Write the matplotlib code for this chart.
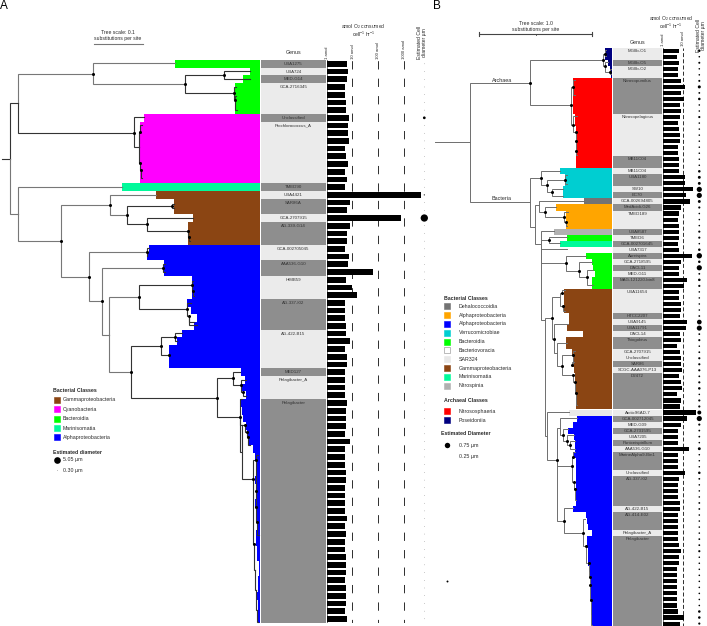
import matplotlib
matplotlib.use('Agg')
import matplotlib.pyplot as plt

plt.rcParams['font.family'] = ['Liberation Sans', 'DejaVu Sans']
plt.rcParams['mathtext.default'] = 'regular'

W, H = 707, 626
DARK = '#8e8e8e'
LIGHT = '#ebebeb'
TXT = '#2a2a2a'

# class colours
GAMMA = '#8b4513'
CYANO = '#ff00ff'
BACTERO = '#00ff00'
MARINI = '#00fa9a'
ALPHA = '#0000ff'
DEHALO = '#737373'
ORANGE = '#ffa500'
VERRU = '#00ced1'
BDELLO = '#ffffff'
SAR324 = '#e8e8e8'
NITROSPINIA = '#b0b0b0'
NITROSO = '#ff0000'
POSEID = '#000080'

# ---- Panel A data ----
genus_a = ['UBA1275', 'UBA724', 'MED-G14', 'GCA-2716345', 'Unclassified', 'Prochlorococcus_A', 'TMED90',
           'UBA4421', 'SAR86A', 'GCA-2707915', 'AG-339-G14', 'GCA-002705045', 'AAA536-G10', 'HIMB59',
           'AG-337-I02', 'AG-422-B15', 'MED127', 'Pelagibacter_A', 'Pelagibacter']
genus_a_rows = [1, 1, 1, 4, 1, 8, 1, 1, 2, 1, 3, 2, 2, 3, 4, 5, 1, 3, 29]

amol_a = [5.0, 5.5, 5.0, 4.2, 4.2, 4.9, 4.6, 6.4, 5.7, 5.5, 6.4, 4.3, 4.5, 5.7, 4.2, 5.0, 4.3, 4730,
          7.0, 5.2, 764, 7.0, 5.3, 5.2, 4.2, 6.4, 5.8, 60, 4.5, 8.9, 14.8, 4.2, 4.2, 4.3, 4.5, 4.6,
          7.0, 4.2, 5.2, 5.2, 4.2, 4.1, 4.2, 4.2, 5.0, 4.5, 4.6, 4.5, 4.2, 6.8, 4.2, 4.2, 4.2, 4.5,
          4.9, 4.1, 4.2, 4.2, 4.1, 5.0, 4.1, 4.7, 4.2, 4.3, 4.9, 4.5, 4.6, 4.3, 4.9, 4.7, 4.5, 4.3, 5.3]

diam_a = [0.35] * 73
diam_a[7] = 1.9
diam_a[17] = 0.8
diam_a[20] = 5.05

band_a_colors = [BACTERO] * 7 + [CYANO] * 9 + [MARINI] + [GAMMA] * 7 + [ALPHA] * 49
band_a_left = [175, 250, 243, 235, 235, 235, 235,
               144, 140, 140, 140, 140, 140, 140, 140, 140,
               122,
               155.7, 174, 174, 193, 188, 188, 188,
               149, 147, 164, 164, 192, 192, 192, 187, 191, 197, 194, 182, 177, 169, 169, 169,
               241, 245, 242, 246, 240, 242, 243, 246, 247, 248, 253, 255, 256, 256, 255, 256, 256, 255,
               256, 257, 257, 256, 256, 257, 257, 259, 259, 258, 258, 257, 258, 258, 258]

# name, parent, x, y, dot
tree_a = [
    ('stub', None, 1.5, 158.5, 0), ('root', 'stub', 9.5, 158.5, 0),
    ('n1', 'root', 17.5, 103, 0), ('n2', 'n1', 93, 74, 1), ('', 'n2', 175, 63.3, 0),
    ('n3', 'n2', 185, 84.3, 1), ('n4', 'n3', 224, 75, 1), ('', 'n4', 250, 71, 0), ('', 'n4', 250, 78.7, 0),
    ('n5', 'n3', 234, 93, 1), ('', 'n5', 236, 87, 0), ('n5a', 'n5', 235, 100, 1), ('', 'n5a', 236, 96, 0),
    ('', 'n5a', 237, 110, 0),
    ('n6', 'n1', 133.7, 132.5, 1), ('', 'n6', 144, 117.3, 0), ('n7', 'n6', 139, 147.3, 0),
    ('n8', 'n7', 140.3, 132, 1), ('', 'n8', 142, 125, 0), ('n9', 'n7', 140.3, 163, 1),
    ('n10', 'n9', 140.7, 169.7, 1), ('', 'n10', 142, 178, 0),
    ('n11', 'root', 17.5, 214, 0), ('', 'n11', 122, 187, 0), ('n12', 'n11', 60.7, 241, 1),
    ('n13', 'n12', 109.7, 205, 1), ('', 'n13', 155.7, 195, 0), ('n14', 'n13', 127, 215.3, 1),
    ('n15', 'n14', 171.7, 206, 1), ('', 'n15', 174, 204, 0), ('', 'n15', 174, 208, 0),
    ('n16', 'n14', 146.7, 224.3, 1), ('', 'n16', 193, 217.7, 0), ('n17', 'n16', 188, 231.3, 1),
    ('n18', 'n17', 189, 237, 1), ('', 'n18', 190, 241, 0),
    ('n19', 'n12', 89, 277, 1), ('n20', 'n19', 146.7, 252.3, 1), ('', 'n20', 149, 248, 0), ('', 'n20', 147, 256, 0),
    ('n21', 'n19', 101.7, 301, 1), ('n22', 'n21', 162.7, 268, 1), ('', 'n22', 165, 264, 0), ('', 'n22', 165, 272, 0),
    ('n23', 'n21', 108.7, 334.7, 0), ('n24', 'n23', 139, 297.3, 1), ('n25', 'n24', 192, 285, 1),
    ('n25a', 'n25', 192.7, 291, 1), ('', 'n25', 193, 281, 0), ('', 'n25a', 194, 296, 0),
    ('n26', 'n24', 187, 309.3, 1), ('n27', 'n26', 189, 316, 1), ('', 'n26', 191, 303, 0),
    ('', 'n27', 197, 325, 0), ('', 'n27', 194, 322, 0),
    ('n28', 'n23', 131.3, 372, 1), ('n29', 'n28', 161, 346, 1), ('n30', 'n29', 175, 337, 1),
    ('', 'n30', 182, 333, 0), ('', 'n30', 177, 341, 0), ('n31', 'n29', 169, 354.7, 1),
    ('n32', 'n28', 217.3, 397.7, 1), ('n33', 'n32', 232.7, 378.3, 1), ('', 'n33', 240, 372, 0),
    ('n34', 'n33', 240.7, 385.3, 1), ('n35', 'n34', 243.3, 391.7, 1), ('', 'n34', 246, 380, 0),
    ('', 'n35', 246, 396, 0), ('n36', 'n32', 240, 417.3, 1), ('', 'n36', 242, 399, 0), ('', 'n36', 241, 452, 0),
    ('a', 'n36', 242.3, 425, 0), ('a1', 'a', 245, 425, 1), ('a2', 'a1', 247.3, 431.7, 1),
    ('a3', 'a2', 248, 437.3, 1), ('', 'a3', 250, 445, 0),
    ('n40', 'a', 253, 479.3, 1), ('n41', 'n40', 256, 460, 1), ('', 'n41', 258, 455, 0),
    ('n42', 'n41', 256, 491, 1), ('n43', 'n42', 256, 507, 1), ('n44', 'n43', 257, 522, 1), ('', 'n44', 259, 535, 0),
    ('n45', 'n40', 254, 544, 1), ('n46', 'n45', 255, 570, 0), ('n47', 'n46', 256, 590, 0),
    ('n48', 'n47', 257, 610, 0), ('', 'n48', 258, 622, 0),
]
gray_a = ['n2', 'n11', 'n12', 'n19', 'n21', 'n23', 'n13']

# ---- Panel B data ----
genus_b = ['MGIIb-O1', 'MGIIb-O5', 'MGIIb-O2', 'Nitrosopumilus', 'Nitrosopelagicus', 'MB11C04', 'MB11C04',
           'UBA1180', 'SW10', 'EC70', 'GCA-002694805', 'MedAcidi-G26', 'TMED189', 'UBA8587', 'TMED6',
           'GCA-002701645', 'UBA7317', 'Aureispira', 'GCA-2718595', 'DACL11', 'MED-G11', 'MAG-121220-bin8',
           'UBA11654', 'HTCC2207', 'UBA9145', 'UBA11791', 'DACL14', 'Thiogobius', 'GCA-2707915', 'Unclassified',
           'SAR86', 'SCGC-AAA076-P13', 'D2472', 'Arctic96AD-7', 'GCA-002712045', 'MED-G09', 'GCA-2731595',
           'UBA7205', 'Puniceispirillum', 'AAA536-G10', 'MarineAlpha9-Bin1', 'Unclassified', 'AG-337-I02',
           'AG-422-B15', 'AG-414-E02', 'Pelagibacter_A', 'Pelagibacter']
genus_b_rows = [2, 1, 2, 6, 7, 2, 1, 2, 1, 1, 1, 1, 3, 1, 1, 1, 1, 1, 1, 1, 1, 2, 4, 1, 1, 1, 1, 2, 1, 1,
                1, 1, 6, 1, 1, 1, 1, 1, 1, 1, 3, 1, 5, 1, 3, 1, 15]
genus_b_dark = [0, 1, 0, 1, 0, 1, 0, 1, 0, 1, 0, 1, 0, 1, 0, 1, 0, 1, 0, 1, 0, 1, 0, 1, 0, 1, 0, 1, 0, 0,
                1, 0, 1, 0, 1, 0, 1, 0, 1, 0, 1, 0, 1, 0, 1, 0, 1]

amol_b = [5.4, 4.1, 4.8, 4.5, 4.6, 6.8, 11.7, 6.8, 9.6, 5.6, 6.6, 5.8, 4.3, 5.2, 6.1, 5.8, 4.5, 4.5, 4.8, 4.8,
          5.0, 10.8, 10.8, 28, 12.1, 20.7, 6.8, 5.0, 4.6, 4.8, 4.8, 5.4, 4.3, 4.8, 26, 7.1, 5.2, 4.8, 14.7, 10,
          5.4, 5.0, 6.6, 6.3, 6.1, 14.7, 12.1, 5.6, 6.6, 4.1, 6.1, 6.8, 6.8, 7.6, 4.8, 7.1, 7.9, 4.1, 6.3, 6.1,
          41, 14.7, 6.6, 4.3, 4.3, 4.3, 19.2, 4.3, 4.3, 4.3, 11.7, 4.8, 4.3, 4.3, 4.3, 5.6, 5.8, 4.3, 4.3, 4.6,
          4.6, 4.5, 5.4, 6.3, 5.2, 5.4, 4.1, 4.1, 4.1, 4.1, 4.1, 4.1, 4.1, 4.3, 9.3, 6.1]

diam_b = [.35, .22, .28, .22, .22, .28, .42, .25, .35, .22, .22, .3, .22, .22, .22, .22, .22, .22, .22, .22,
          .35, .4, .4, .72, .72, .4, .3, .22, .22, .22, .3, .3, .22, .35, .75, .35, .72, .25, .35, .3,
          .22, .22, .22, .22, .25, .65, .7, .25, .3, .22, .25, .3, .3, .3, .25, .3, .35, .22, .3, .3,
          .55, .72, .3, .25, .25, .22, .4, .22, .22, .22, .35, .25, .22, .22, .22, .25, .25, .22, .22, .22,
          .22, .25, .25, .3, .22, .22, .22, .22, .22, .22, .22, .22, .22, .35, .35, .3]

band_b_colors = ([POSEID] * 5 + [NITROSO] * 15 + [VERRU] * 5 + [DEHALO] + [ORANGE] * 4 + [NITROSPINIA] +
                 [BACTERO] + [MARINI] + [BDELLO] + [BACTERO] * 6 + [GAMMA] * 20 + [SAR324] + [ALPHA] * 35)
band_b_left = [605, 605, 608, 610, 610.7,
               573, 573, 573, 573, 573, 573, 575, 575, 576, 576, 576, 576, 576, 576, 576,
               560, 565, 565, 563, 563,
               584,
               556, 566, 566, 566,
               554, 566.7, 560, 566.7,
               586, 591.7, 593, 595, 592, 592,
               564, 564, 564, 564, 569, 569, 566.7, 582.7, 566, 566, 571.7, 573, 573, 574, 575, 575, 576, 576, 576, 576,
               569,
               576.7, 573, 568, 574, 574.5, 575, 573, 575.7, 575.7, 575.7, 575.7, 575.7, 575.7, 575.7, 575.7, 573,
               585.7, 586.7, 587.7, 592, 587, 587, 587.5, 588, 588, 589, 589.5, 590, 590, 590.5, 590.5, 591, 591, 591.5, 591.7]

tree_b = [
    ('stub', None, 435.3, 142.3, 0), ('root', 'stub', 470, 142.3, 0),
    ('arch', 'root', 530, 82.7, 1), ('m1', 'arch', 603.3, 60.3, 1), ('m2', 'm1', 604.7, 53.7, 1),
    ('', 'm2', 606, 50, 0), ('', 'm2', 606, 56, 0), ('m3', 'm1', 605, 66, 1), ('m4', 'm3', 609.7, 71.6, 1),
    ('', 'm3', 608, 62, 0), ('', 'm4', 611, 69, 0), ('', 'm4', 611, 74, 0),
    ('th', 'arch', 570.7, 105.3, 1), ('th1', 'th', 572.7, 86.7, 1), ('', 'th1', 575, 80, 0), ('', 'th1', 575, 95, 0),
    ('th2', 'th', 573.3, 124.7, 1), ('', 'th2', 577, 116, 0), ('th3', 'th2', 575.7, 132, 1),
    ('th4', 'th3', 576, 141, 1), ('th5', 'th4', 576, 151, 1), ('', 'th5', 577, 155, 0),
    ('bac', 'root', 530, 202.3, 0), ('b1', 'bac', 541, 178, 1), ('', 'b1', 560, 170.7, 0),
    ('b2', 'b1', 546.7, 185.3, 1), ('b3', 'b2', 565.3, 180, 1), ('', 'b3', 567, 175, 0), ('', 'b3', 567, 184, 0),
    ('b4', 'b2', 552.3, 192, 1), ('', 'b4', 563, 189, 0), ('', 'b4', 563, 196, 0),
    ('b5', 'bac', 534.7, 226.7, 0), ('b6', 'b5', 539.3, 205, 0), ('', 'b6', 584, 201, 0),
    ('b7', 'b6', 545, 212, 1), ('', 'b7', 556, 206.7, 0), ('b8', 'b7', 564, 217, 1),
    ('b8a', 'b8', 565.5, 222, 1), ('', 'b8', 568, 212, 0), ('', 'b8a', 567, 226, 0),
    ('b9', 'b5', 541, 244, 0), ('', 'b9', 554, 231, 0), ('b10', 'b9', 549.3, 240, 1), ('', 'b10', 566.7, 236.7, 0),
    ('', 'b10', 560, 243, 0), ('', 'b9', 566.7, 249, 0),
    ('g1', 'b9', 566, 262.7, 1), ('', 'g1', 586, 256, 0), ('g2', 'g1', 579.3, 271, 1), ('', 'g2', 592, 262, 0),
    ('g3', 'g2', 586.7, 277.3, 1), ('', 'g3', 593, 270, 0), ('', 'g3', 593, 284.5, 0),
    ('b11', 'b9', 545, 320, 0), ('c1', 'b11', 551.7, 317.7, 1), ('c1a', 'c1', 560, 296.7, 0),
    ('c1b', 'c1a', 562, 293, 1), ('c1c', 'c1a', 562.5, 306, 1), ('', 'c1b', 565, 290, 0), ('', 'c1c', 565, 311, 0),
    ('c4', 'c1', 554.3, 339.3, 1), ('', 'c4', 568, 324, 0), ('c5', 'c4', 557.3, 352.7, 0), ('', 'c5', 566.7, 343, 0),
    ('c6', 'c5', 562.3, 365.7, 1), ('c7', 'c6', 572.7, 355, 1), ('', 'c7', 575, 351, 0), ('c8', 'c7', 571.7, 365, 1),
    ('', 'c8', 574, 362, 0), ('c9', 'c6', 572.7, 375, 1), ('c10', 'c9', 575.3, 381.7, 1), ('c11', 'c10', 576, 392.7, 1),
    ('', 'c11', 577, 405, 0),
    ('c3', 'b11', 547.3, 436, 0), ('', 'c3', 569, 411.5, 0), ('c2', 'c3', 556.7, 460, 1),
    ('d1', 'c2', 560, 427.7, 0), ('', 'd1', 576.7, 418, 0), ('d2', 'd1', 562.7, 435, 1), ('', 'd2', 568, 429, 0),
    ('d3', 'd2', 567, 440.7, 1), ('', 'd3', 574, 435, 0), ('d4', 'd3', 570, 445, 1), ('', 'd4', 575, 441, 0),
    ('', 'd4', 575, 449, 0),
    ('e0', 'c2', 571.7, 465.7, 1), ('e1', 'e0', 573.3, 456.7, 1), ('', 'e1', 575, 452, 0),
    ('e2', 'e0', 574.3, 481.7, 1), ('e3', 'e2', 575, 489, 1), ('', 'e3', 576, 500, 0),
    ('e', 'c2', 564.3, 520.7, 1), ('', 'e', 573.3, 507.7, 0), ('f2', 'e', 583.3, 532.7, 1), ('', 'f2', 585, 519, 0),
    ('f4', 'f2', 586, 546.3, 1), ('f5', 'f4', 588.7, 562.7, 1), ('f6', 'f5', 590.3, 577, 1), ('f7', 'f6', 590.3, 585, 1),
    ('f8', 'f7', 591, 600, 1), ('', 'f8', 592, 625, 0),
]

legend_a_names = ['Gammaproteobacteria', 'Cyanobacteria', 'Bacteroidia', 'Marinisomatia', 'Alphaproteobacteria']
legend_a_colors = [GAMMA, CYANO, BACTERO, MARINI, ALPHA]
legend_b_names = ['Dehalococcoidia', 'Alphaproteobacteria', 'Alphaproteobacteria', 'Verrucomicrobiae', 'Bacteroidia',
                  'Bacteriovoracia', 'SAR324', 'Gammaproteobacteria', 'Marinisomatia', 'Nitrospinia']
legend_b_colors = [DEHALO, ORANGE, ALPHA, VERRU, BACTERO, BDELLO, SAR324, GAMMA, MARINI, NITROSPINIA]
archaea_names = ['Nitrososphaeria', 'Poseidoniia']
archaea_colors = [NITROSO, POSEID]

fig = plt.figure(figsize=(W / 100, H / 100), dpi=100)


def add_axes(x0, x1, ytop, ybot):
    # axes placed by its pixel box
    a = fig.add_axes([x0 / W, 1 - ybot / H, (x1 - x0) / W, (ybot - ytop) / H])
    a.axis('off')
    a.patch.set_alpha(0)
    return a


def draw_panel(top, row_h, names, spans, darks, left_edges, colors, amol, diam, x_genus, x_one, decade, x_max,
               x_dot, px_per_um, bar_h, dash, dash_style):
    n = len(amol)
    rows = list(range(n))
    bottom = top + n * row_h
    # colour bands and genus cells share rows, x in pixels
    band = add_axes(0, W, top, bottom)
    band.set_xlim(0, W)
    band.set_ylim(n - 0.5, -0.5)
    right = x_genus[0] - 1
    band.barh(rows, [right - l for l in left_edges], left=left_edges, height=1, color=colors, linewidth=0)
    start = 0
    for name, span, dark in zip(names, spans, darks):
        band.barh(range(start, start + span), x_genus[1] - x_genus[0], left=x_genus[0], height=1,
                  color=DARK if dark else LIGHT, linewidth=0)
        band.text(sum(x_genus) / 2, start, name, ha='center', va='center', fontsize=3.2, color='#333333')
        start += span
    band.scatter([x_dot] * n, rows, s=[(d * px_per_um * 0.72) ** 2 for d in diam], color='black', linewidths=0,
                 zorder=4)

    # oxygen bars on a log axis
    bars = add_axes(x_one, x_max, top, bottom)
    bars.set_xscale('log')
    bars.set_xlim(1, 10 ** ((x_max - x_one) / decade))
    bars.set_ylim(n - 0.5, -0.5)
    bars.axvline(1, color='#555555', lw=0.6)
    for tick in dash:
        bars.axvline(tick, color='#333333', lw=0.72, linestyle=dash_style)
    bars.barh(rows, amol, left=1, height=bar_h, color='black', linewidth=0, zorder=3)
    return band


draw_panel(60, 7.708, genus_a, genus_a_rows, [1, 0, 1, 0, 1, 0, 1, 0, 1, 0, 1, 0, 1, 0, 1, 0, 1, 0, 1],
           band_a_left, band_a_colors, amol_a, diam_a, (261, 325.7), 326.7, 25.67, 430, 424.3, 1.445, 0.74,
           [10, 100, 1000], (4.7, (8.3, 9.16)))
draw_panel(47.7, 6.03, genus_b, genus_b_rows, genus_b_dark, band_b_left, band_b_colors, amol_b, diam_b,
           (612.7, 662.3), 663.3, 20, 707, 699.3, 7.2, 0.68, [10], (0, (4, 2.2)))

# everything else is in figure pixels
ax = add_axes(0, W, 0, H)
ax.set_xlim(0, W)
ax.set_ylim(H, 0)
ax.set_zorder(5)


def draw_tree(tree, color, gray=(), lw=0.8):
    pos = {}
    k = 0
    for name, parent, x, y, dot in tree:
        key = name if name else f'_{k}'
        k += 1
        pos[key] = (x, y)
        if parent is not None:
            px, py = pos[parent]
            c = '#777777' if name in gray or parent in gray else color
            ax.plot([px, px, x], [py, y, y], color=c, lw=lw, solid_joinstyle='miter', zorder=2)
        if dot:
            ax.plot(x, y, 'o', color='black', ms=2.2, mew=0, zorder=3)


draw_tree(tree_a, '#333333', gray_a)
draw_tree(tree_b, '#6e6e6e', lw=0.7)


def label(x, y, s, size=3.8, **kw):
    kw.setdefault('va', 'center')
    kw.setdefault('color', TXT)
    ax.text(x, y, s, fontsize=size, **kw)


def legend(x_sq, x_txt, y_title, title, ys, names, colors):
    label(x_sq - 0.5, y_title, title, fontweight='bold')
    for y, name, c in zip(ys, names, colors):
        ax.add_patch(plt.Rectangle((x_sq, y - 3), 6, 6, facecolor=c,
                                   edgecolor='#888888' if c == BDELLO else c, lw=0.4))
        label(x_txt, y, name)


# panel letters
label(4, 6, 'A', size=8.5, ha='center', color='black')
label(437, 6, 'B', size=8.5, ha='center', color='black')

# scale bars
label(118, 32.2, 'Tree scale: 0.1', ha='center', size=3.7)
label(118, 38.8, 'substitutions per site', ha='center', size=3.7)
ax.plot([94, 142.7], [44, 44], color='#777777', lw=0.8)
label(535.7, 23.7, 'Tree scale: 1.0', ha='center', size=3.7)
label(535.7, 30, 'substitutions per site', ha='center', size=3.7)
ax.plot([479, 592.3], [33.7, 33.7], color='#444444', lw=0.8)
ax.plot([479, 479], [31.5, 36], color='#444444', lw=0.8)
ax.plot([592.3, 592.3], [31.5, 36], color='#444444', lw=0.8)
ax.plot([535.7, 535.7], [33.7, 35], color='#444444', lw=0.6)

# headers panel A
label(293.3, 53, 'Genus', size=3.8, ha='center')
label(363.3, 26.4, 'amol O$_2$ consumed', ha='center', size=3.6)
label(363.3, 34, 'cell$^{-1}$ hr$^{-1}$', ha='center', size=3.6)
for x, s in zip([327, 352.7, 378, 403.7], ['1 amol', '10 amol', '100 amol', '1000 amol']):
    label(x, 59, s, size=3.1, rotation=90, ha='center', va='bottom')
label(422.3, 59, 'Estimated Cell\ndiameter µm', size=3.7, rotation=90, ha='center', va='bottom', linespacing=1.0,
      multialignment='center')

# headers panel B
label(637.3, 42, 'Genus', size=3.8, ha='center')
label(671, 18.8, 'amol O$_2$ consumed', ha='center', size=3.6)
label(671, 26.4, 'cell$^{-1}$ hr$^{-1}$', ha='center', size=3.6)
label(663.3, 46, '1 amol', size=3.1, rotation=90, ha='center', va='bottom')
label(683.3, 46, '10 amol', size=3.1, rotation=90, ha='center', va='bottom')
label(701, 52, 'Estimated Cell\ndiameter µm', size=3.7, rotation=90, ha='center', va='bottom', linespacing=1.0,
      multialignment='center')
label(501.7, 80, 'Archaea', ha='center', size=3.9)
label(501.7, 199, 'Bacteria', ha='center', size=3.9)

# legends
legend(53.7, 63, 390.7, 'Bacterial Classes', [400, 409.3, 418.7, 428, 437.3], legend_a_names, legend_a_colors)
label(53, 452, 'Estimated diameter', fontweight='bold')
ax.plot(57, 460.3, 'o', color='black', ms=4.8, mew=0)
label(63, 460, '5.05 µm')
ax.plot(57, 470.3, 'o', color='#999999', ms=0.5, mew=0)
label(63, 470.3, '0.30 µm')

legend(444, 459, 298.3, 'Bacterial Classes', [306, 315, 323.7, 332.7, 341.7, 350.3, 359.3, 368.3, 377, 386],
       legend_b_names, legend_b_colors)
legend(444, 459, 400.3, 'Archaeal Classes', [411, 420], archaea_names, archaea_colors)
label(440.7, 433.3, 'Estimated Diameter', fontweight='bold')
ax.plot(447, 445.3, 'o', color='black', ms=3.9, mew=0)
label(459, 445.5, '0.75 µm')
label(459, 456.3, '0.25 µm')
ax.plot(447, 580.7, 'o', color='black', ms=1.4, mew=0)

fig.savefig('out.png', dpi=100)
